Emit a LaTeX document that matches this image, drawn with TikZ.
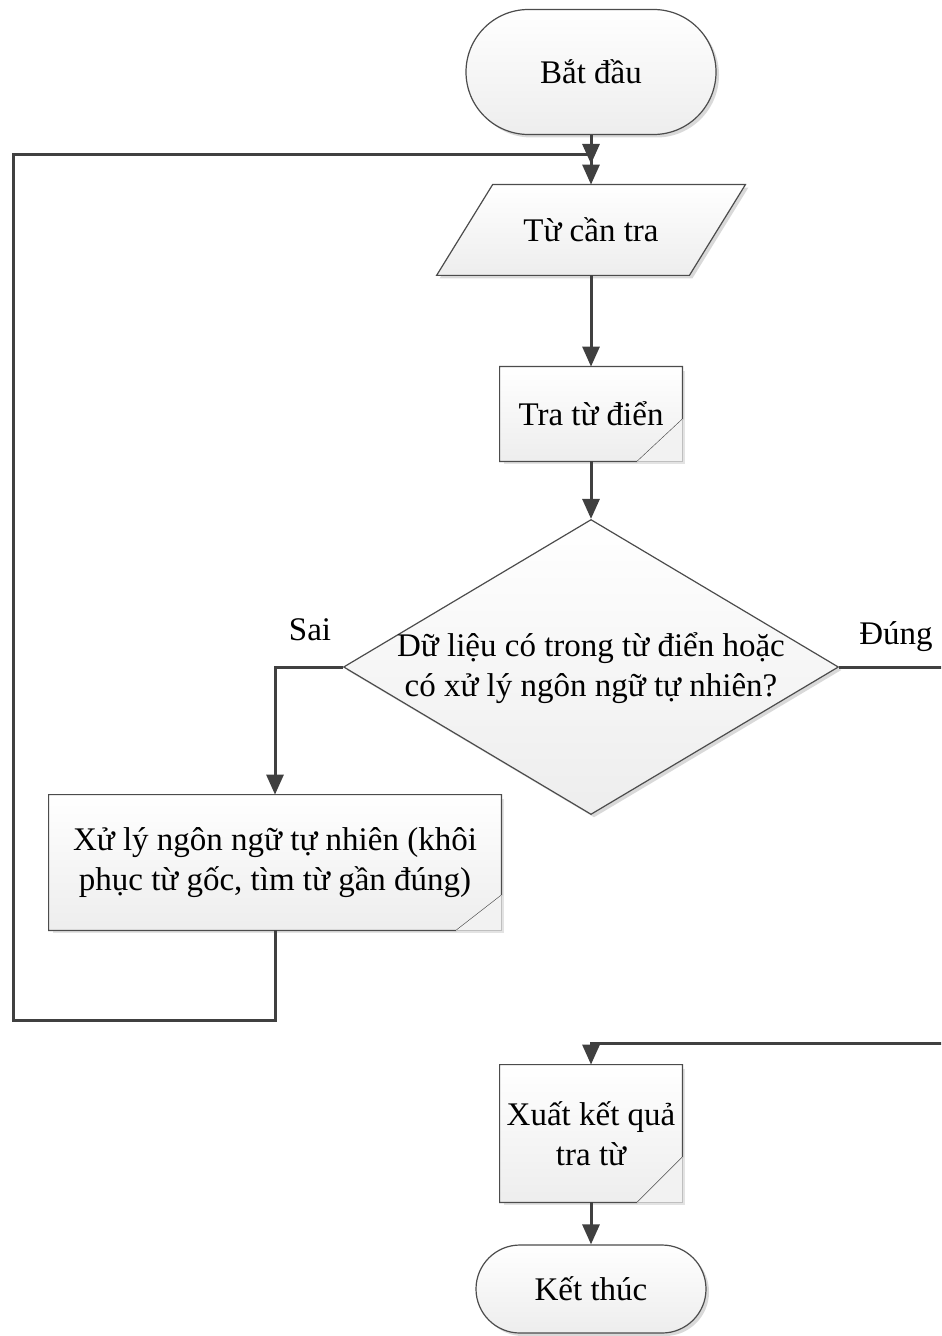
\documentclass[tikz,border=0pt]{standalone}
\usepackage{fontspec}
\setmainfont{Liberation Serif}
\usetikzlibrary{arrows.meta,shapes.misc,shapes.geometric,calc,backgrounds,shadows}

\newcommand\flowfont{\fontsize{16.5}{20}\selectfont}

\tikzset{
  conn/.style={draw=black!75, line width=1.5pt},
  arr/.style={conn, -{Triangle[length=10pt,width=8.5pt]}},
  edge/.style={draw=black!70, line width=0.6pt},
  soft/.style={top color=white, bottom color=black!7},
  shade/.style={drop shadow={shadow xshift=1.5pt, shadow yshift=-1.5pt, fill=black!15, opacity=1}},
  termbox/.style={rounded rectangle, edge, soft, shade, inner sep=0pt, font=\flowfont},
  textbox/.style={rectangle, inner sep=0pt, align=center, font=\flowfont},
  lbl/.style={font=\flowfont},
}

% process box with a folded lower-right corner, drawn behind node #1
% #2, #3: horizontal and vertical size of the fold
\newcommand\foldedbox[3]{%
  \begin{scope}[on background layer]
    \fill[black!11] ($(#1.north west)+(4,4)$) rectangle ($(#1.south east)+(3,3)$);
    \path[edge, soft] (#1.north west) -- (#1.north east)
      -- ($(#1.south east)+(0,-#3)$) -- ($(#1.south east)+(-#2,0)$)
      -- (#1.south west) -- cycle;
    \filldraw[fill=black!5, draw=black!25, line width=0.5pt] ($(#1.south east)+(0,-#3)$)
      -- (#1.south east) -- ($(#1.south east)+(-#2,0)$);
  \end{scope}}

\begin{document}
\begin{tikzpicture}[x=0.5pt, y=-0.5pt]
  \clip (0,0) rectangle (941,1336);

  % nodes
  \node[termbox, minimum width=125pt, minimum height=62.5pt] (start) at (591,72) {Bắt đầu};

  \node[textbox, minimum width=126pt, minimum height=45pt] (inp) at (591,230) {Từ cần tra};
  \begin{scope}[on background layer]
    \path[edge, soft, shade] ($(inp.north west)+(28,0)$) -- ($(inp.north east)+(28,0)$)
      -- ($(inp.south east)+(-28,0)$) -- ($(inp.south west)+(-28,0)$) -- cycle;
  \end{scope}

  \node[textbox, minimum width=91pt, minimum height=47pt] (look) at (591,414) {Tra từ điển};
  \foldedbox{look}{45}{42}

  \node[diamond, edge, soft, shade, inner sep=0pt, minimum width=247.5pt, minimum height=147.5pt] (dec) at (591,667) {};
  \node[textbox] (dectext) at (591,668) {Dữ liệu có trong từ điển hoặc\\có xử lý ngôn ngữ tự nhiên?};

  \node[textbox, minimum width=226pt, minimum height=67.5pt] (nlp) at (275,862.5)
    {Xử lý ngôn ngữ tự nhiên (khôi\\phục từ gốc, tìm từ gần đúng)};
  \foldedbox{nlp}{45}{35}

  \node[textbox, minimum width=91pt, minimum height=68.5pt] (out) at (591,1133.5) {Xuất kết quả\\tra từ};
  \foldedbox{out}{45}{45}

  \node[termbox, minimum width=115pt, minimum height=44pt] (stop) at (591,1289) {Kết thúc};

  \node[lbl] (sai) at (310,630) {Sai};
  \node[lbl] (dung) at (896,637) {Đúng};

  % connectors
  \coordinate (join) at (591,164);
  \draw[arr] (start.south) -- (join);
  \draw[arr] (inp.south) -- (look.north);
  \draw[arr] (look.south) -- (dec.north);
  \draw[arr] (dec.west) -| (nlp.north);
  \draw[arr] (dec.east) -- (990,667) -- (990,1043) -| (out.north);
  \draw[arr] (nlp.south) |- (13,1020) -- (13,155) -| (inp.north);
  \draw[arr] (out.south) -- (stop.north);
\end{tikzpicture}
\end{document}
